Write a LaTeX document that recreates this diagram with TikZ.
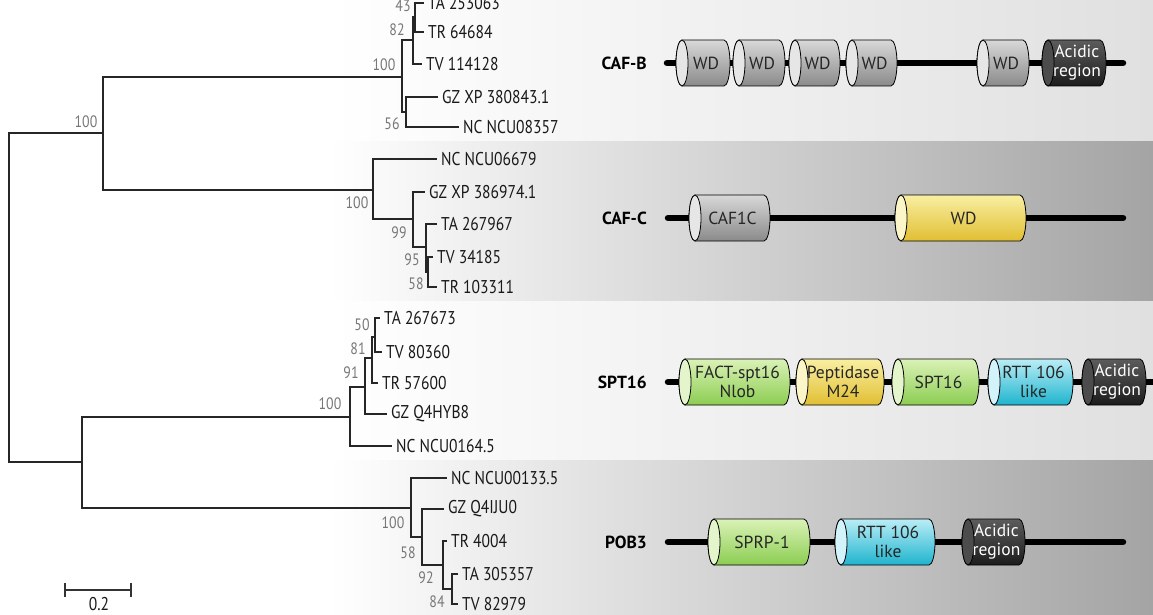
\documentclass[tikz,border=0pt]{standalone}
\usepackage{fontspec}
\setmainfont{PT Sans}
\newfontfamily\condfont[FakeStretch=0.84]{PT Sans}
\usepackage{tikz}

\definecolor{bandL}{HTML}{E0E0E0}
\definecolor{bandD}{HTML}{A4A4A4}
\definecolor{bootgray}{HTML}{777777}
\definecolor{dgrayT}{HTML}{D8D8D8}
\definecolor{dgrayB}{HTML}{8A8A8A}
\definecolor{dgrayF}{HTML}{E6E6E6}
\definecolor{dyelT}{HTML}{F9EFA2}
\definecolor{dyelB}{HTML}{E1BF32}
\definecolor{dyelF}{HTML}{FBF5C8}
\definecolor{dgrnT}{HTML}{DAF2B6}
\definecolor{dgrnB}{HTML}{8CCD52}
\definecolor{dgrnF}{HTML}{E4F5CC}
\definecolor{dcynT}{HTML}{BAEDF6}
\definecolor{dcynB}{HTML}{1EB4CE}
\definecolor{dcynF}{HTML}{D2F3F9}
\definecolor{dblkT}{HTML}{5C5C5C}
\definecolor{dblkB}{HTML}{1C1C1C}
\definecolor{dblkF}{HTML}{4C4C4C}

\tikzset{
    tree/.style={line width=2.3pt, black!85, line join=miter},
    leaf/.style={anchor=west, inner xsep=4pt, inner ysep=0pt,
        font=\condfont\fontsize{18.5}{18.5}\selectfont, text=black!90},
    boot/.style={inner sep=0pt, text=bootgray,
        font=\condfont\fontsize{16.5}{16.5}\selectfont},
    grp/.style={anchor=east, inner sep=0pt,
        font=\bfseries\fontsize{17.5}{18}\selectfont},
    domtext/.style={align=center, inner sep=0pt,
        font=\fontsize{17.5}{19}\selectfont, text=black!85},
    protline/.style={line width=6.5pt, line cap=round},
    scalebar/.style={line width=1.4pt, black!80}
}

% #1 name, #2 left x, #3 right x, #4 axis y, #5 colour set, #6 text
\newcommand{\domain}[6]{%
    \shadedraw[top color=#5T, bottom color=#5B, line width=0.8pt]
        (#2+6,#4+23) -- (#3-6,#4+23)
        arc[start angle=90, end angle=-90, x radius=6pt, y radius=23pt]
        -- (#2+6,#4-23)
        arc[start angle=270, end angle=90, x radius=6pt, y radius=23pt]
        -- cycle;
    \filldraw[fill=#5F, line width=0.8pt]
        (#2+6,#4) ellipse[x radius=6pt, y radius=23pt];
    \node[domtext] (#1) at ({(#2+#3)/2+3},#4) {#6};
}

\begin{document}
\begin{tikzpicture}[x=1pt, y=1pt]

\useasboundingbox (0,0) rectangle (1153,-615);


% Bandes de fons

\shade[left color=white, right color=bandL] (330,0) rectangle (1153,-141);
\shade[left color=white, right color=bandD] (330,-141) rectangle (1153,-301);
\shade[left color=white, right color=bandL] (330,-301) rectangle (1153,-460);
\shade[left color=white, right color=bandD] (330,-460) rectangle (1153,-615);


% Nusos interns

\coordinate (root) at (9,-297);
\coordinate (nA) at (103,-133);
\coordinate (nB) at (82,-462);
\coordinate (cafb) at (402,-77);
\coordinate (n82) at (413,-40);
\coordinate (n43) at (415,-17);
\coordinate (n56) at (406,-112);
\coordinate (cafc) at (373,-190);
\coordinate (n99) at (413,-219);
\coordinate (n95) at (426,-247);
\coordinate (n58a) at (428,-272);
\coordinate (spt) at (350,-417);
\coordinate (n91) at (365,-387);
\coordinate (n81) at (372,-358);
\coordinate (n50) at (375,-337);
\coordinate (pob) at (411,-508);
\coordinate (n58b) at (422,-537);
\coordinate (n92) at (443,-565);
\coordinate (n84) at (452,-589);


% Fulles

\node[leaf] (ta253063) at (424,-3) {TA 253063};
\node[leaf] (tr64684) at (424,-32) {TR 64684};
\node[leaf] (tv114128) at (422,-64) {TV 114128};
\node[leaf] (gz380843) at (438,-97) {GZ XP 380843.1};
\node[leaf] (nc08357) at (459,-127) {NC NCU08357};

\node[leaf] (nc06679) at (437,-159) {NC NCU06679};
\node[leaf] (gz386974) at (425,-192) {GZ XP 386974.1};
\node[leaf] (ta267967) at (437,-224) {TA 267967};
\node[leaf] (tv34185) at (433,-257) {TV 34185};
\node[leaf] (tr103311) at (437,-287) {TR 103311};

\node[leaf] (ta267673) at (380,-318) {TA 267673};
\node[leaf] (tv80360) at (382,-352) {TV 80360};
\node[leaf] (tr57600) at (378,-383) {TR 57600};
\node[leaf] (gzq4hyb8) at (387,-414) {GZ Q4HYB8};
\node[leaf] (nc01645) at (392,-446) {NC NCU0164.5};

\node[leaf] (nc001335) at (447,-478) {NC NCU00133.5};
\node[leaf] (gzq4iju0) at (444,-509) {GZ Q4IJU0};
\node[leaf] (tr4004) at (447,-541) {TR 4004};
\node[leaf] (ta305357) at (458,-574) {TA 305357};
\node[leaf] (tv82979) at (458,-604) {TV 82979};


% Branques

\draw[tree] (root) |- (nA);
\draw[tree] (root) |- (nB);
\draw[tree] (nA) |- (cafb);
\draw[tree] (nA) |- (cafc);
\draw[tree] (nB) |- (spt);
\draw[tree] (nB) |- (pob);

\draw[tree] (cafb) |- (n82);
\draw[tree] (cafb) |- (n56);
\draw[tree] (n82) |- (n43);
\draw[tree] (n43) |- (ta253063.west);
\draw[tree] (n43) |- (tr64684.west);
\draw[tree] (n82) |- (tv114128.west);
\draw[tree] (n56) |- (gz380843.west);
\draw[tree] (n56) |- (nc08357.west);

\draw[tree] (cafc) |- (nc06679.west);
\draw[tree] (cafc) |- (n99);
\draw[tree] (n99) |- (gz386974.west);
\draw[tree] (n99) |- (n95);
\draw[tree] (n95) |- (ta267967.west);
\draw[tree] (n95) |- (n58a);
\draw[tree] (n58a) |- (tv34185.west);
\draw[tree] (n58a) |- (tr103311.west);

\draw[tree] (spt) |- (n91);
\draw[tree] (spt) |- (nc01645.west);
\draw[tree] (n91) |- (n81);
\draw[tree] (n91) |- (gzq4hyb8.west);
\draw[tree] (n81) |- (n50);
\draw[tree] (n81) |- (tr57600.west);
\draw[tree] (n50) |- (ta267673.west);
\draw[tree] (n50) |- (tv80360.west);

\draw[tree] (pob) |- (nc001335.west);
\draw[tree] (pob) |- (n58b);
\draw[tree] (n58b) |- (gzq4iju0.west);
\draw[tree] (n58b) |- (n92);
\draw[tree] (n92) |- (tr4004.west);
\draw[tree] (n92) |- (n84);
\draw[tree] (n84) |- (ta305357.west);
\draw[tree] (n84) |- (tv82979.west);


% Valors de bootstrap

\node[boot] (bA) at (86,-122) {100};
\node[boot] (bcafb) at (384,-65) {100};
\node[boot] (b82) at (397,-30) {82};
\node[boot] (b43) at (403,-6) {43};
\node[boot] (b56) at (392,-124) {56};
\node[boot] (bcafc) at (357,-203) {100};
\node[boot] (b99) at (399,-233) {99};
\node[boot] (b95) at (412,-260) {95};
\node[boot] (b58a) at (416,-284) {58};
\node[boot] (bspt) at (330,-404) {100};
\node[boot] (b91) at (351,-373) {91};
\node[boot] (b81) at (358,-349) {81};
\node[boot] (b50) at (362,-325) {50};
\node[boot] (bpob) at (393,-523) {100};
\node[boot] (b58b) at (408,-553) {58};
\node[boot] (b92) at (426,-578) {92};
\node[boot] (b84) at (437,-602) {84};


% Escala

\coordinate (sbL) at (65,-590);
\coordinate (sbR) at (131,-590);
\draw[scalebar] (sbL) -- (sbR);
\draw[scalebar] ([yshift=7pt]sbL) -- ([yshift=-7pt]sbL);
\draw[scalebar] ([yshift=7pt]sbR) -- ([yshift=-7pt]sbR);
\node[leaf, anchor=center] (sblab) at (99,-604) {0.2};


% CAF-B

\node[grp] (gB) at (647,-63) {CAF-B};
\coordinate (lB1) at (667,-63);
\coordinate (lB2) at (1123,-63);
\draw[protline] (lB1) -- (lB2);
\domain{wdB1}{676}{730}{-63}{dgray}{WD}
\domain{wdB2}{733}{785}{-63}{dgray}{WD}
\domain{wdB3}{789}{840}{-63}{dgray}{WD}
\domain{wdB4}{846}{897}{-63}{dgray}{WD}
\domain{wdB5}{977}{1029}{-63}{dgray}{WD}
\domain{acB}{1042}{1106}{-63}{dblk}{\textcolor{white}{Acidic}\\\textcolor{white}{region}}


% CAF-C

\node[grp] (gC) at (647,-218) {CAF-C};
\coordinate (lC1) at (668,-218);
\coordinate (lC2) at (1123,-218);
\draw[protline] (lC1) -- (lC2);
\domain{cafC}{689}{770}{-218}{dgray}{CAF1C}
\domain{wdC}{895}{1026}{-218}{dyel}{WD}


% SPT16

\node[grp] (gS) at (647,-382) {SPT16};
\coordinate (lS1) at (668,-382);
\coordinate (lS2) at (1160,-382);
\draw[protline] (lS1) -- (lS2);
\domain{factS}{679}{790}{-382}{dgrn}{FACT-spt16\\Nlob}
\domain{pepS}{796}{884}{-382}{dyel}{Peptidase\\M24}
\domain{sptS}{892}{979}{-382}{dgrn}{SPT16}
\domain{rttS}{988}{1073}{-382}{dcyn}{RTT 106\\like}
\domain{acS}{1082}{1146}{-382}{dblk}{\textcolor{white}{Acidic}\\\textcolor{white}{region}}


% POB3

\node[grp] (gP) at (647,-542) {POB3};
\coordinate (lP1) at (668,-542);
\coordinate (lP2) at (1123,-542);
\draw[protline] (lP1) -- (lP2);
\domain{sprpP}{708}{810}{-542}{dgrn}{SPRP-1}
\domain{rttP}{835}{935}{-542}{dcyn}{RTT 106\\like}
\domain{acP}{962}{1025}{-542}{dblk}{\textcolor{white}{Acidic}\\\textcolor{white}{region}}

\end{tikzpicture}
\end{document}
